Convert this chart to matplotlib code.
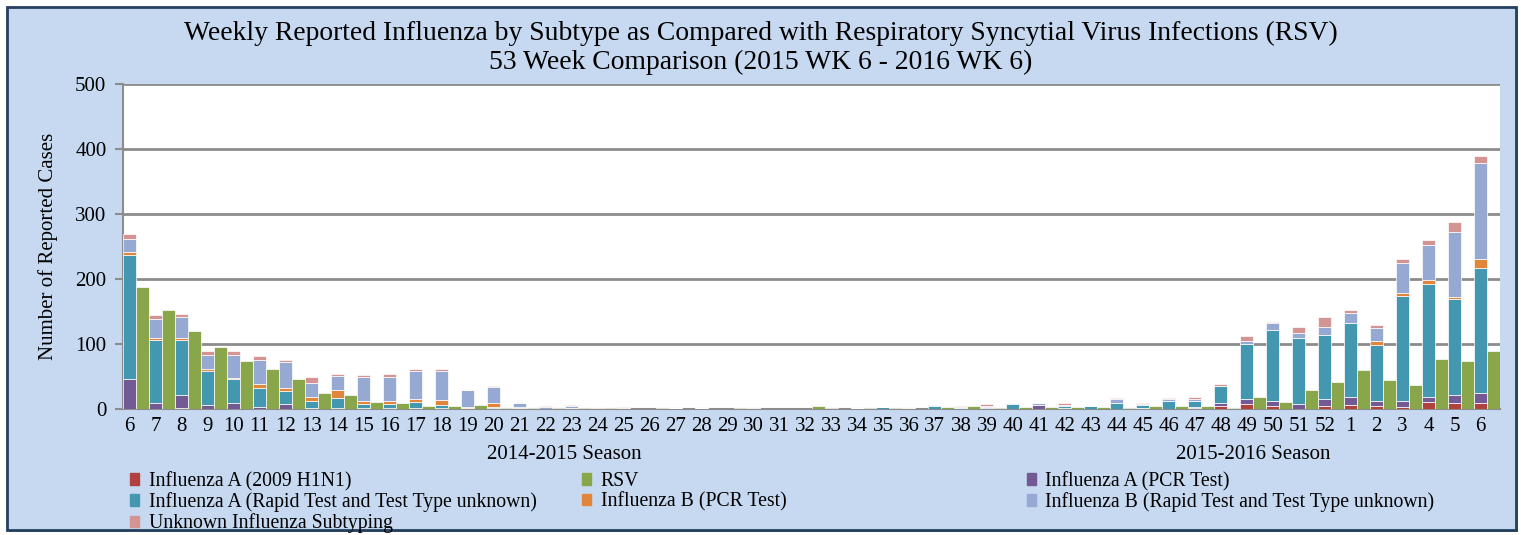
import matplotlib
matplotlib.use('Agg')
import matplotlib.pyplot as plt
import numpy as np
from matplotlib.patches import Rectangle, Patch

weeks = list(range(6, 53)) + list(range(1, 7))
seasons = ['2014-2015 Season', '2015-2016 Season']
season_start = [0, weeks.index(40)]

h1n1 = [0, 0, 1, 0, 0, 0, 0, 0, 0, 0, 0, 0, 0, 0, 0, 0, 0, 0, 0, 0,
        0, 0, 0, 0, 0, 0, 0, 0, 0, 0, 0, 0, 0, 0, 0, 0, 0, 0, 0, 1,
        0, 2, 5, 7, 4, 0, 5, 6, 4, 3, 11, 9, 9]
a_pcr = [46, 10, 20, 6, 10, 3, 7, 1, 2, 1, 2, 2, 2, 1, 1, 1, 0, 1, 0, 0,
         0, 1, 0, 0, 0, 0, 0, 0, 0, 0, 0, 0, 0, 2, 0, 6, 2, 0, 0, 1,
         0, 1, 4, 8, 8, 7, 10, 12, 8, 9, 8, 12, 15]
a_rapid = [191, 96, 85, 53, 36, 30, 20, 11, 15, 7, 6, 9, 4, 1, 2, 1, 0, 0, 2, 0,
           0, 0, 1, 0, 2, 0, 0, 0, 2, 3, 0, 5, 2, 1, 7, 0, 3, 4, 9, 4,
           12, 9, 26, 85, 110, 103, 99, 114, 86, 162, 174, 148, 193]
b_pcr = [4, 4, 3, 2, 1, 5, 5, 6, 13, 4, 5, 4, 8, 1, 6, 1, 0, 1, 1, 1,
         0, 0, 0, 0, 0, 0, 0, 0, 0, 0, 0, 0, 0, 0, 0, 0, 0, 0, 0, 0,
         0, 0, 0, 0, 0, 0, 0, 0, 6, 5, 6, 4, 14]
b_rapid = [20, 29, 33, 22, 36, 37, 41, 22, 21, 37, 37, 43, 44, 27, 25, 6, 3, 3, 0, 1,
           0, 0, 0, 0, 1, 0, 0, 0, 0, 0, 1, 1, 1, 2, 2, 3, 1, 1, 6, 1,
           3, 3, 0, 5, 10, 7, 12, 15, 21, 45, 54, 100, 147]
unknown = [9, 5, 4, 7, 7, 7, 2, 10, 3, 4, 4, 3, 3, 0, 1, 1, 1, 1, 0, 1,
           0, 0, 0, 0, 0, 0, 0, 1, 0, 0, 0, 0, 2, 2, 0, 0, 3, 0, 2, 3,
           2, 4, 4, 8, 2, 9, 15, 6, 4, 7, 7, 15, 11]
rsv = [187, 153, 120, 96, 74, 62, 46, 25, 22, 11, 9, 5, 5, 6, 2, 1, 1, 1, 1, 0,
       1, 0, 0, 1, 0, 0, 4, 0, 2, 1, 0, 3, 4, 2, 3, 3, 3, 3, 1, 4,
       5, 4, 2, 19, 11, 29, 41, 60, 44, 37, 77, 74, 89]

flu_series = [
    ('Influenza A (2009 H1N1)', h1n1, '#B0413E'),
    ('Influenza A (PCR Test)', a_pcr, '#735A94'),
    ('Influenza A (Rapid Test and Test Type unknown)', a_rapid, '#4397B0'),
    ('Influenza B (PCR Test)', b_pcr, '#E08539'),
    ('Influenza B (Rapid Test and Test Type unknown)', b_rapid, '#95A9D2'),
    ('Unknown Influenza Subtyping', unknown, '#D49493'),
]
rsv_color = '#8AA64B'
bg = '#C6D9F1'

plt.rcParams['font.family'] = ['Liberation Serif', 'DejaVu Serif']

fig = plt.figure(figsize=(15.21, 5.35), dpi=100, facecolor='white')
fig.patches.append(Rectangle((0.0060, 0.0065), 0.992, 0.9776, transform=fig.transFigure,
                             facecolor='#7F8FA6', edgecolor='none', zorder=-2))
fig.patches.append(Rectangle((0.0046, 0.0093), 0.992, 0.9776, transform=fig.transFigure,
                             facecolor=bg, edgecolor='#243F60', lw=2, zorder=-1))

ax = fig.add_axes([0.0809, 0.2355, 0.9053, 0.6075])
x = np.arange(len(weeks))
bottom = np.zeros(len(weeks))
for label, vals, color in flu_series:
    ax.bar(x + 0.25, vals, width=0.5, bottom=bottom, color=color,
           edgecolor='white', linewidth=0.5, zorder=3)
    bottom += np.array(vals)
ax.bar(x + 0.75, rsv, width=0.5, color=rsv_color, edgecolor='white', linewidth=0.5, zorder=3)

ax.set_xlim(0, len(weeks))
ax.set_ylim(0, 500)
ax.set_yticks(range(0, 501, 100))
ax.yaxis.grid(True, color='#8C8C8C', linewidth=2)
ax.set_axisbelow(True)
ax.set_xticks(x + 0.25)
ax.set_xticklabels([str(w) for w in weeks], fontsize=15)
ax.tick_params(axis='x', length=0, pad=6)
ax.tick_params(axis='y', labelsize=15, length=6, color='#8C8C8C', width=1.5, pad=6)
for s in ['top', 'right']:
    ax.spines[s].set_visible(False)
for s in ['left', 'bottom']:
    ax.spines[s].set_color('#8C8C8C')
    ax.spines[s].set_linewidth(1.5)
ax.set_ylabel('Number of Reported Cases', fontsize=15, labelpad=12)

bounds = season_start + [len(weeks)]
for i, name in enumerate(seasons):
    mid = (bounds[i] + bounds[i + 1]) / 2
    ax.text(mid, -0.14, name, transform=ax.get_xaxis_transform(),
            ha='center', va='center', fontsize=15)

fig.text(0.5, 0.91, 'Weekly Reported Influenza by Subtype as Compared with Respiratory Syncytial Virus Infections (RSV)\n53 Week Comparison (2015 WK 6 - 2016 WK 6)',
         ha='center', va='center', fontsize=19.9, linespacing=1.2)

handles = {label: Patch(color=color) for label, vals, color in flu_series}
handles['RSV'] = Patch(color=rsv_color)
columns = [
    (0.0855, ['Influenza A (2009 H1N1)', 'Influenza A (Rapid Test and Test Type unknown)', 'Unknown Influenza Subtyping']),
    (0.3825, ['RSV', 'Influenza B (PCR Test)']),
    (0.675, ['Influenza A (PCR Test)', 'Influenza B (Rapid Test and Test Type unknown)']),
]
for xpos, labels in columns:
    fig.legend([handles[l] for l in labels], labels, loc='upper left',
               bbox_to_anchor=(xpos, 0.118), frameon=False, fontsize=14.2,
               handlelength=0.45, handleheight=0.55, handletextpad=0.5,
               labelspacing=0.06, borderpad=0, borderaxespad=0)

fig.savefig('out.png', dpi=100, facecolor='white')
